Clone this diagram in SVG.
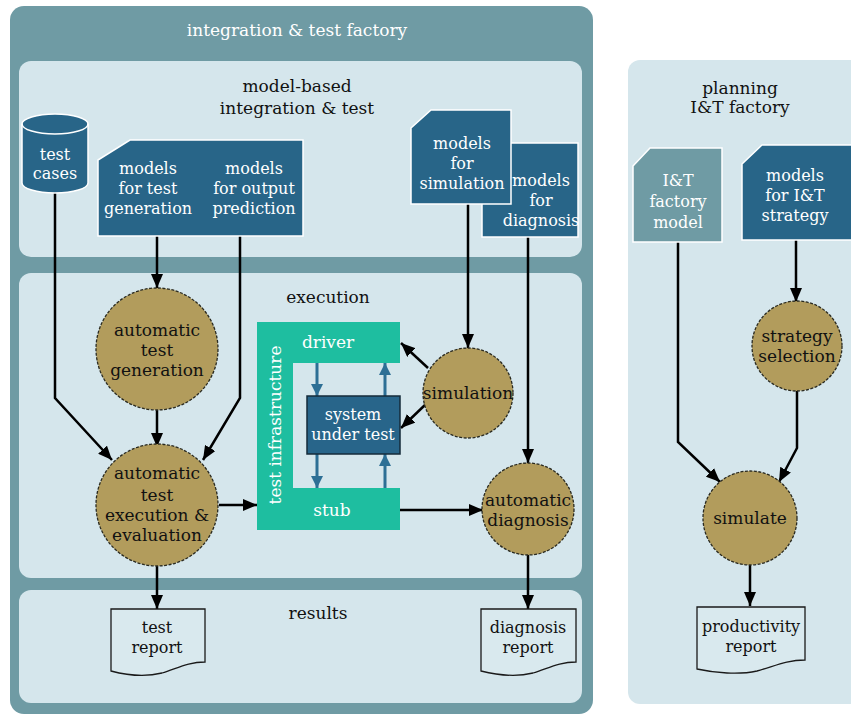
<svg xmlns="http://www.w3.org/2000/svg" width="851" height="716" viewBox="0 0 851 716">
  <style>
    text { font-family: "DejaVu Serif", "Liberation Serif", serif; text-anchor: middle; }
    .w { fill: #ffffff; }
    .k { fill: #111111; }
    .panel { fill: #d5e6ec; }
    .model { fill: #286588; stroke: #ffffff; stroke-width: 1.5; }
    .model2 { fill: #6f9ba4; stroke: #ffffff; stroke-width: 1.5; }
    .proc { fill: #b29c5c; stroke: #2a2a20; stroke-width: 1.3; stroke-dasharray: 3 1.5; }
    .doc { fill: #d9e9ee; stroke: #1a1a1a; stroke-width: 1.3; }
    .edge { fill: none; stroke: #000000; stroke-width: 2.5; marker-end: url(#ah); }
    .bedge { fill: none; stroke: #2d6f95; stroke-width: 3; marker-end: url(#bh); }
  </style>
  <defs>
    <marker id="ah" viewBox="0 0 14 12" refX="14" refY="6" markerWidth="14" markerHeight="12" markerUnits="userSpaceOnUse" orient="auto">
      <path d="M0,0 L14,6 L0,12 Z" fill="#000000"/>
    </marker>
    <marker id="bh" viewBox="0 0 12 12" refX="12" refY="6" markerWidth="12" markerHeight="12" markerUnits="userSpaceOnUse" orient="auto">
      <path d="M0,0 L12,6 L0,12 Z" fill="#2d6f95"/>
    </marker>
  </defs>

  <rect width="851" height="716" fill="#ffffff"/>

  <!-- integration & test factory frame -->
  <g id="factory">
    <rect x="10" y="6" width="583" height="708" rx="14" fill="#6f9ba4"/>
    <text class="w" x="297" y="36" font-size="17">integration &amp; test factory</text>
    <rect class="panel" x="19" y="61" width="563" height="196" rx="12"/>
    <rect class="panel" x="19" y="273" width="563" height="305" rx="12"/>
    <rect class="panel" x="19" y="590" width="563" height="113" rx="12"/>
    <text class="k" x="297" y="92" font-size="17">model-based</text>
    <text class="k" x="297" y="114" font-size="17">integration &amp; test</text>
    <text class="k" x="328" y="303" font-size="17">execution</text>
    <text class="k" x="318" y="619" font-size="17">results</text>
  </g>

  <!-- planning frame -->
  <g id="planning">
    <rect class="panel" x="628" y="60" width="240" height="644" rx="12"/>
    <text class="k" x="740" y="94" font-size="17">planning</text>
    <text class="k" x="740" y="113" font-size="17">I&amp;T factory</text>
  </g>

  <!-- connectors -->
  <g id="connectors">
    <path class="edge" d="M55,193 V398 L112,460"/>
    <path class="edge" d="M157,236 V288"/>
    <path class="edge" d="M240,236 V398 L203,460"/>
    <path class="edge" d="M157,410 V447"/>
    <path class="edge" d="M219,505 H257"/>
    <path class="edge" d="M468,204 V348"/>
    <path class="edge" d="M428,368 L401,343"/>
    <path class="edge" d="M426,404 L401,428"/>
    <path class="edge" d="M528,237 V463"/>
    <path class="edge" d="M400,510 H483"/>
    <path class="edge" d="M157,566 V609"/>
    <path class="edge" d="M528,555 V609"/>
    <path class="edge" d="M678,242 V442 L720,482"/>
    <path class="edge" d="M796,240 V302"/>
    <path class="edge" d="M797,390 V448 L779,482"/>
    <path class="edge" d="M750,565 V606"/>
    <path class="bedge" d="M317,363 V396"/>
    <path class="bedge" d="M385,396 V363"/>
    <path class="bedge" d="M317,454 V488"/>
    <path class="bedge" d="M385,488 V454"/>
  </g>

  <g id="test-cases">
    <path class="model" d="M22,124 A33,10 0 0 1 88,124 V183 A33,10 0 0 1 22,183 Z"/>
    <path d="M22,124 A33,10 0 0 0 88,124" fill="none" stroke="#ffffff" stroke-width="1.5"/>
    <text class="w" x="55" y="160" font-size="16">test</text>
    <text class="w" x="55" y="179" font-size="16">cases</text>
  </g>

  <g id="models-test">
    <path class="model" d="M98,160 L130,140 H303 V236 H98 Z"/>
    <text class="w" x="148" y="174" font-size="16">models</text>
    <text class="w" x="148" y="194" font-size="16">for test</text>
    <text class="w" x="148" y="214" font-size="16">generation</text>
    <text class="w" x="254" y="174" font-size="16">models</text>
    <text class="w" x="254" y="194" font-size="16">for output</text>
    <text class="w" x="254" y="214" font-size="16">prediction</text>
  </g>

  <g id="models-diagnosis">
    <rect class="model" x="482" y="143" width="96" height="94"/>
    <text class="w" x="541" y="186" font-size="16">models</text>
    <text class="w" x="541" y="206" font-size="16">for</text>
    <text class="w" x="541" y="226" font-size="16">diagnosis</text>
  </g>

  <g id="models-simulation">
    <path class="model" d="M411,128 L431,110 H511 V204 H411 Z"/>
    <text class="w" x="462" y="149" font-size="16">models</text>
    <text class="w" x="462" y="169" font-size="16">for</text>
    <text class="w" x="462" y="189" font-size="16">simulation</text>
  </g>

  <g id="test-generation">
    <circle class="proc" cx="157" cy="349" r="61"/>
    <text class="k" x="157" y="336" font-size="17">automatic</text>
    <text class="k" x="157" y="356" font-size="17">test</text>
    <text class="k" x="157" y="376" font-size="17">generation</text>
  </g>

  <g id="test-execution">
    <circle class="proc" cx="157" cy="505" r="61"/>
    <text class="k" x="157" y="479" font-size="17">automatic</text>
    <text class="k" x="157" y="501" font-size="17">test</text>
    <text class="k" x="157" y="521" font-size="17">execution &amp;</text>
    <text class="k" x="157" y="541" font-size="17">evaluation</text>
  </g>

  <g id="test-infrastructure">
    <path d="M257,322 H400 V363 H293 V488 H400 V530 H257 Z" fill="#1ebea0"/>
    <text class="w" x="328" y="348" font-size="17">driver</text>
    <text class="w" x="332" y="516" font-size="17">stub</text>
    <text class="w" x="0" y="0" font-size="17" transform="translate(281,425) rotate(-90)">test infrastructure</text>
  </g>

  <g id="system-under-test">
    <rect x="307" y="396" width="93" height="58" fill="#28658a" stroke="#142b3a" stroke-width="1.5"/>
    <text class="w" x="353" y="420" font-size="16">system</text>
    <text class="w" x="353" y="440" font-size="16">under test</text>
  </g>

  <g id="simulation">
    <circle class="proc" cx="468" cy="393" r="45"/>
    <text class="k" x="468" y="399" font-size="17">simulation</text>
  </g>

  <g id="automatic-diagnosis">
    <circle class="proc" cx="528" cy="509" r="46"/>
    <text class="k" x="528" y="506" font-size="17">automatic</text>
    <text class="k" x="528" y="526" font-size="17">diagnosis</text>
  </g>

  <g id="test-report">
    <path class="doc" d="M111,609 H205 V662 C188,662 178,668 162,673 C146,677 126,675 111,671 Z"/>
    <text class="k" x="157" y="633" font-size="16">test</text>
    <text class="k" x="157" y="653" font-size="16">report</text>
  </g>

  <g id="diagnosis-report">
    <path class="doc" d="M481,609 H576 V662 C559,662 549,668 533,673 C517,677 497,675 481,671 Z"/>
    <text class="k" x="528" y="633" font-size="16">diagnosis</text>
    <text class="k" x="528" y="653" font-size="16">report</text>
  </g>

  <g id="factory-model">
    <path class="model2" d="M633,166 L650,148 H722 V242 H633 Z"/>
    <text class="w" x="678" y="186" font-size="16">I&amp;T</text>
    <text class="w" x="678" y="207" font-size="16">factory</text>
    <text class="w" x="678" y="228" font-size="16">model</text>
  </g>

  <g id="strategy-models">
    <path class="model" d="M742,164 L762,145 H860 V240 H742 Z"/>
    <text class="w" x="795" y="181" font-size="16">models</text>
    <text class="w" x="795" y="201" font-size="16">for I&amp;T</text>
    <text class="w" x="795" y="221" font-size="16">strategy</text>
  </g>

  <g id="strategy-selection">
    <circle class="proc" cx="797" cy="346" r="45"/>
    <text class="k" x="797" y="342" font-size="17">strategy</text>
    <text class="k" x="797" y="362" font-size="17">selection</text>
  </g>

  <g id="simulate">
    <circle class="proc" cx="750" cy="518" r="47"/>
    <text class="k" x="750" y="524" font-size="17">simulate</text>
  </g>

  <g id="productivity-report">
    <path class="doc" d="M697,607 H805 V660 C786,660 775,666 757,671 C739,675 715,673 697,669 Z"/>
    <text class="k" x="751" y="632" font-size="16">productivity</text>
    <text class="k" x="751" y="652" font-size="16">report</text>
  </g>
</svg>
